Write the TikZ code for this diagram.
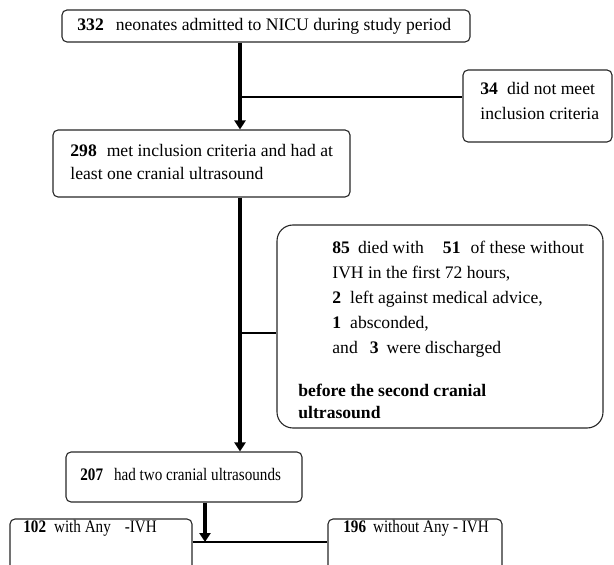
\documentclass[tikz,border=0pt]{standalone}
\usepackage{fontspec}
\setmainfont{Liberation Serif}
\newfontfamily\narrowserif[FakeStretch=0.86]{Liberation Serif}
\usetikzlibrary{fit,arrows.meta}
\newcommand\sgap[1]{\hspace{#1pt}}
\begin{document}
\begin{tikzpicture}[x=0.5pt,y=-0.5pt,
  box/.style={draw=black!85, line width=0.55pt, rounded corners=2.5pt, inner sep=0pt},
  bigbox/.style={box, rounded corners=8pt},
  txt/.style={inner sep=0pt, anchor=west, align=left, font=\fontsize{8.8}{12.5}\selectfont},
  small/.style={txt, font=\narrowserif\fontsize{8.8}{10}\selectfont},
  trunk/.style={line width=1.7pt, -{Triangle[width=5.5pt,length=4.5pt]}},
  branch/.style={line width=0.9pt}]
\useasboundingbox (0,0) rectangle (614,565);
\clip (0,0) rectangle (614,565);
% boxes
\node[box, fit={(62,10)(470,42)}] (b1) {};
\node[box, fit={(463,70)(612,142)}] (b34) {};
\node[box, fit={(53,130)(350,197)}] (b2) {};
\node[bigbox, fit={(277,225)(603,428)}] (b85) {};
\node[box, fit={(66,452)(302,502)}] (b207) {};
\node[box, fit={(10,519)(192,600)}] (b102) {};
\node[box, fit={(328,519)(502,600)}] (b196) {};
% texts
\node[txt] (t1) at (77,26) {\textbf{332}\sgap{6}neonates admitted to NICU during study period};
\node[txt] (t34) at (480,101) {\textbf{34}\sgap{4.5}did not meet\\inclusion criteria};
\node[txt, font=\fontsize{8.8}{11.5}\selectfont] (t2) at (70,162) {\textbf{298}\sgap{5}met inclusion criteria and had at\\least one cranial ultrasound};
\node[txt] (t85a) at (332,299) {\textbf{85}\sgap{4}died with\sgap{9.5}\textbf{51}\sgap{5}of these without\\IVH in the first 72 hours,\\\textbf{2}\sgap{4.5}left against medical advice,\\\textbf{1}\sgap{4.5}absconded,\\and\sgap{6}\textbf{3}\sgap{4}were discharged};
\node[txt, font=\fontsize{8.8}{11}\selectfont\bfseries] (t85b) at (298,401) {before the second cranial\\ultrasound};
\node[small] (t207) at (80,474) {\textbf{207}\sgap{5.5}had two cranial ultrasounds};
\node[small] (t102) at (23,528) {\textbf{102}\sgap{4}with Any\sgap{7}-IVH};
\node[small] (t196) at (343,528) {\textbf{196}\sgap{3.5}without Any - IVH};
% connector coordinates
\coordinate (j1) at (240,97);
\coordinate (j2) at (240,333);
\coordinate (j3) at (205,542);
% connectors
\draw[trunk] (b1.south -| j1) -- (b2.north -| j1);
\draw[branch] (j1) -- (j1 -| b34.west);
\draw[trunk] (b2.south -| j2) -- (b207.north -| j2);
\draw[branch] (j2) -- (j2 -| b85.west);
\draw[trunk] (b207.south -| j3) -- (j3);
\draw[branch] (j3 -| b102.east) -- (j3 -| b196.west);
\end{tikzpicture}
\end{document}
